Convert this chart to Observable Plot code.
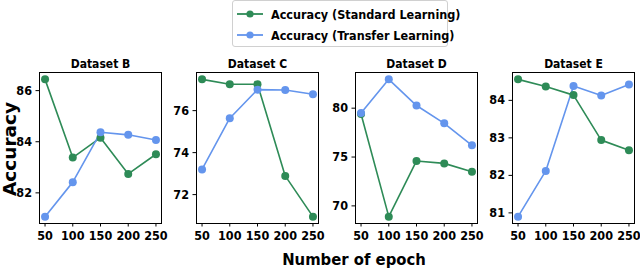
<!DOCTYPE html>
<html>
<head>
<meta charset="utf-8">
<script src="https://cdn.jsdelivr.net/npm/d3@7"></script>
<script src="https://cdn.jsdelivr.net/npm/@observablehq/plot@0.6"></script>
<style>
  html, body { margin: 0; padding: 0; background: #fff; }
  #root { position: relative; width: 640px; height: 273px; overflow: hidden; background: #fff;
          font-family: 'DejaVu Sans Condensed', 'DejaVu Sans', sans-serif; font-weight: bold; }
  .panel { position: absolute; }
  .legend { position: absolute; left: 232px; top: 0px; width: 214px; height: 45px;
            border: 1px solid #d0d0d0; border-radius: 3px; background: #fff; }
  .legend .row { position: absolute; left: 0; height: 16px; display: flex; align-items: center; }
  .legend .lbl { font-size: 12.5px; color: #000; margin-left: 5px; white-space: nowrap; }
  .ylab { position: absolute; left: 9px; top: 149px; transform: translate(-50%, -50%) rotate(-90deg);
          font-family: 'DejaVu Sans', sans-serif; font-weight: bold; font-size: 18.5px; white-space: nowrap; }
  .xlab { position: absolute; left: 354px; top: 252px; transform: translateX(-50%);
          font-size: 16.5px; white-space: nowrap; line-height: 1; }
</style>
</head>
<body>
<div id="root"></div>
<script>
// ---- data ----
const epochs = [50, 100, 150, 200, 250];
const datasetNames = ["Dataset B", "Dataset C", "Dataset D", "Dataset E"];
const seriesNames = ["Accuracy (Standard Learning)", "Accuracy (Transfer Learning)"];
const seriesColors = ["#2e8b57", "#6495ed"];

const standardB = [86.44, 83.38, 84.16, 82.74, 83.51];
const transferB = [81.07, 82.42, 84.37, 84.27, 84.07];
const standardC = [77.49, 77.26, 77.26, 72.89, 70.95];
const transferC = [73.20, 75.64, 77.00, 76.98, 76.78];
const standardD = [79.40, 68.90, 74.60, 74.35, 73.50];
const transferD = [79.50, 82.95, 80.27, 78.45, 76.20];
const standardE = [84.56, 84.37, 84.14, 82.94, 82.67];
const transferE = [80.90, 82.12, 84.38, 84.13, 84.42];

const xTicks = [50, 100, 150, 200, 250];
const yTicksB = [82, 84, 86];
const yTicksC = [72, 74, 76];
const yTicksD = [70, 75, 80];
const yTicksE = [81, 82, 83, 84];

const xLabel = "Number of epoch";
const yLabel = "Accuracy";

// ---- layout ----
const panels = [
  {name: datasetNames[0], std: standardB, tr: transferB, ticks: yTicksB, frameLeft: 39},
  {name: datasetNames[1], std: standardC, tr: transferC, ticks: yTicksC, frameLeft: 196},
  {name: datasetNames[2], std: standardD, tr: transferD, ticks: yTicksD, frameLeft: 354.5},
  {name: datasetNames[3], std: standardE, tr: transferE, ticks: yTicksE, frameLeft: 512}
];
const frameW = 122, mL = 30, mR = 3, mT = 22, mB = 28, frameTop = 72, frameH = 151;

const root = document.getElementById("root");

function padDomain(values) {
  const lo = d3.min(values), hi = d3.max(values), p = (hi - lo) * 0.05;
  return [lo - p, hi + p];
}
const fmt = d => String(d);

for (const p of panels) {
  const rows = [];
  epochs.forEach((e, i) => {
    rows.push({epoch: e, acc: p.std[i], series: seriesNames[0]});
    rows.push({epoch: e, acc: p.tr[i], series: seriesNames[1]});
  });
  const xPad = (d3.max(epochs) - d3.min(epochs)) * 0.05;
  const chart = Plot.plot({
    width: mL + frameW + mR,
    height: mT + frameH + mB,
    marginLeft: mL, marginRight: mR, marginTop: mT, marginBottom: mB,
    style: {fontFamily: "'DejaVu Sans Condensed', 'DejaVu Sans', sans-serif", fontWeight: "bold",
            fontSize: "12.5px", background: "transparent", overflow: "visible", color: "#000"},
    x: {domain: [d3.min(epochs) - xPad, d3.max(epochs) + xPad], ticks: xTicks, tickFormat: fmt, tickSize: 3.5, tickPadding: 4, label: null},
    y: {domain: padDomain([...p.std, ...p.tr]), ticks: p.ticks, tickFormat: fmt, tickSize: 3.5, tickPadding: 4, label: null},
    color: {domain: seriesNames, range: seriesColors},
    marks: [
      Plot.line(rows, {x: "epoch", y: "acc", z: "series", stroke: "series", strokeWidth: 1.6}),
      Plot.dot(rows, {x: "epoch", y: "acc", fill: "series", r: 4}),
      Plot.frame({stroke: "#000", strokeWidth: 1}),
      Plot.text([p.name], {frameAnchor: "top", dy: -13, fontSize: 12, fontWeight: "bold", fill: "#000"})
    ]
  });
  chart.classList.add("panel");
  chart.style.left = (p.frameLeft - mL) + "px";
  chart.style.top = (frameTop - mT) + "px";
  root.appendChild(chart);
}

// legend
const legend = document.createElement("div");
legend.className = "legend";
const rowTops = [5, 26];
seriesNames.forEach((name, i) => {
  const row = document.createElement("div");
  row.className = "row";
  row.style.top = rowTops[i] + "px";
  row.innerHTML = `<svg width="32" height="16" style="margin-left:1px"><line x1="3" x2="29" y1="8" y2="8" stroke="${seriesColors[i]}" stroke-width="1.8"/><circle cx="16" cy="8" r="3.6" fill="${seriesColors[i]}"/></svg><span class="lbl">${name}</span>`;
  legend.appendChild(row);
});
root.appendChild(legend);

const yl = document.createElement("div");
yl.className = "ylab"; yl.textContent = yLabel; root.appendChild(yl);
const xl = document.createElement("div");
xl.className = "xlab"; xl.textContent = xLabel; root.appendChild(xl);
</script>
</body>
</html>
